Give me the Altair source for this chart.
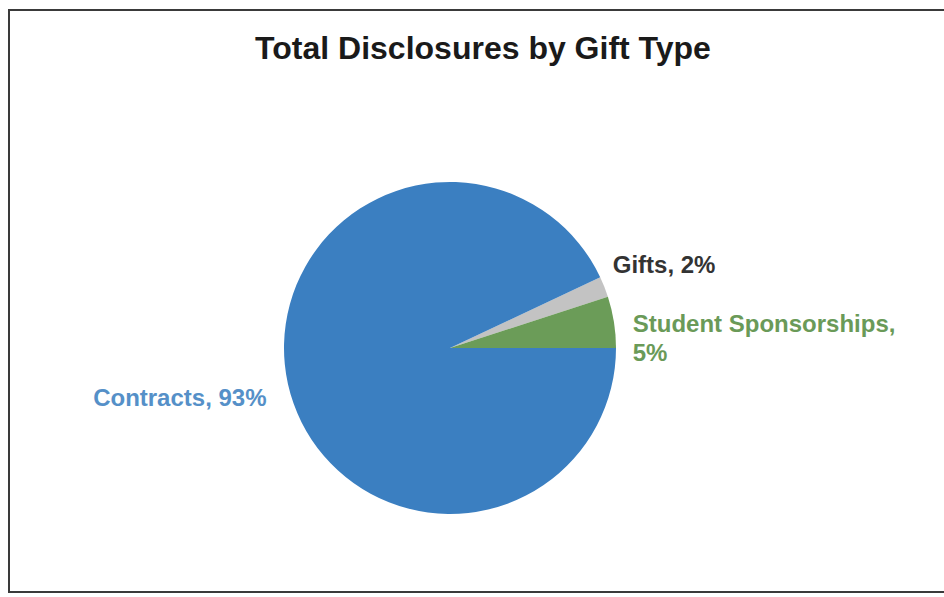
import altair as alt
import pandas as pd
import math

categories = ["Gifts", "Student Sponsorships", "Contracts"]
values = [2, 5, 93]
labels = ["Gifts, 2%", ["Student Sponsorships,", "5%"], "Contracts, 93%"]
slice_colors = ["#c3c3c3", "#6b9c58", "#3b7fc1"]
title_text = "Total Disclosures by Gift Type"

df = pd.DataFrame({"category": categories, "value": values, "order": [0, 1, 2],
                   "label": [l if isinstance(l, str) else "\n".join(l) for l in labels]})

start = math.radians(90 - (values[0] + values[1]) * 3.6)
theta = alt.Theta("value:Q", stack=True, scale=alt.Scale(range=[start, start + 2 * math.pi]))
order = alt.Order("order:Q")
CX, CY = 450, 348

base = alt.Chart(df)

pie = base.mark_arc(radius=166).encode(
    theta=theta,
    order=order,
    color=alt.Color("category:N", scale=alt.Scale(domain=categories, range=slice_colors), legend=None),
    x=alt.value(CX), y=alt.value(CY),
)

def label_layer(cat, radius, align, dy, color):
    return base.mark_text(radius=radius, align=align, baseline="middle", dy=dy,
                          font="Liberation Sans", fontWeight="bold", fontSize=24,
                          color=color, lineBreak="\n", lineHeight=29).encode(
        theta=theta,
        order=order,
        x=alt.value(CX), y=alt.value(CY),
        text=alt.condition(alt.datum.category == cat, alt.Text("label:N"), alt.value("")),
    )

gifts_lbl = label_layer("Gifts", 175, "left", -18, "#333333")
student_lbl = label_layer("Student Sponsorships", 185, "left", 6, "#6a9a58")
contracts_lbl = label_layer("Contracts", 188, "right", 10, "#5590c8")

one = alt.Data(values=[{}])
title = alt.Chart(one).mark_text(font="Liberation Sans", fontWeight="bold", fontSize=32,
                                 color="#1a1a1a", align="center", baseline="middle").encode(
    x=alt.value(483), y=alt.value(49), text=alt.value(title_text))

border = alt.Chart(one).mark_rect(fill=None, stroke="#3a3a3a", strokeWidth=2).encode(
    x=alt.value(9), x2=alt.value(960), y=alt.value(10), y2=alt.value(592))

chart = alt.layer(border, pie, gifts_lbl, student_lbl, contracts_lbl, title).properties(
    width=944, height=597, autosize=alt.AutoSizeParams(type="none"), padding=0,
    background="white"
).configure_view(stroke=None)

chart.save("out.html", embed_options={"renderer": "svg", "actions": False})
